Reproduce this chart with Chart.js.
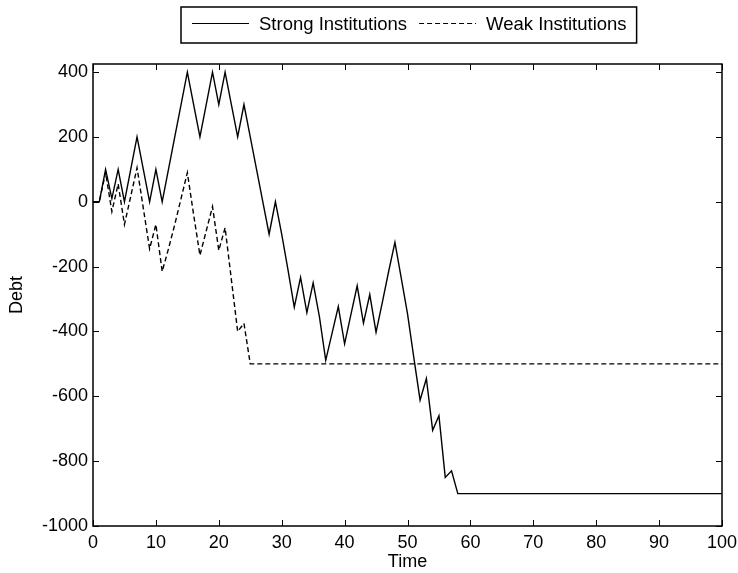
<!DOCTYPE html>
<html>
<head>
<meta charset="utf-8">
<script src="https://cdn.jsdelivr.net/npm/chart.js@4"></script>
<style>
  html, body { margin: 0; padding: 0; background: #fff; }
</style>
</head>
<body>
<canvas id="chart" width="738" height="573"></canvas>
<script>
// time steps 0..100
const time = [
  0, 1, 2, 3, 4, 5, 6, 7, 8, 9, 10, 11, 12, 13, 14, 15, 16, 17, 18, 19, 20,
  21, 22, 23, 24, 25, 26, 27, 28, 29, 30, 31, 32, 33, 34, 35, 36, 37, 38, 39, 40,
  41, 42, 43, 44, 45, 46, 47, 48, 49, 50, 51, 52, 53, 54, 55, 56, 57, 58, 59, 60,
  61, 62, 63, 64, 65, 66, 67, 68, 69, 70, 71, 72, 73, 74, 75, 76, 77, 78, 79, 80,
  81, 82, 83, 84, 85, 86, 87, 88, 89, 90, 91, 92, 93, 94, 95, 96, 97, 98, 99, 100
];

const strongDebt = [
  0, 0, 100, 10, 100, 0, 100, 200, 100, 0, 100, 0, 100, 200, 300, 400, 300, 200, 300, 400, 300,
  400, 300, 200, 300, 200, 100, 0, -100, 0, -100, -210, -325, -233, -342, -250, -355, -489, -406, -323, -438,
  -348, -259, -374, -286, -402, -310, -215, -125, -235, -345, -480, -612, -545, -705, -660, -850, -830, -900, -900, -900,
  -900, -900, -900, -900, -900, -900, -900, -900, -900, -900, -900, -900, -900, -900, -900, -900, -900, -900, -900, -900,
  -900, -900, -900, -900, -900, -900, -900, -900, -900, -900, -900, -900, -900, -900, -900, -900, -900, -900, -900, -900
];

const weakDebt = [
  0, 0, 90, -30, 55, -70, 17, 105, -20, -145, -70, -215, -145, -70, 10, 90, -40, -165, -90, -15, -150,
  -80, -240, -400, -375, -500, -500, -500, -500, -500, -500, -500, -500, -500, -500, -500, -500, -500, -500, -500, -500,
  -500, -500, -500, -500, -500, -500, -500, -500, -500, -500, -500, -500, -500, -500, -500, -500, -500, -500, -500, -500,
  -500, -500, -500, -500, -500, -500, -500, -500, -500, -500, -500, -500, -500, -500, -500, -500, -500, -500, -500, -500,
  -500, -500, -500, -500, -500, -500, -500, -500, -500, -500, -500, -500, -500, -500, -500, -500, -500, -500, -500, -500
];

const seriesNames = ['Strong Institutions', 'Weak Institutions'];
const xTicks = [0, 10, 20, 30, 40, 50, 60, 70, 80, 90, 100];
const yTicks = [-1000, -800, -600, -400, -200, 0, 200, 400];

const FONT = '"Liberation Sans", Arial, Helvetica, sans-serif';

const toPoints = vals => time.map((t, i) => ({ x: t, y: vals[i] }));

// box round the plot with matlab style inward ticks on all four sides
const frameTicks = {
  id: 'frameTicks',
  afterDatasetsDraw(chart) {
    const { ctx, chartArea: a, scales: { x, y } } = chart;
    ctx.save();
    ctx.strokeStyle = '#000';
    ctx.lineWidth = 1;
    ctx.beginPath();
    x.ticks.forEach(t => {
      const px = Math.round(x.getPixelForValue(t.value)) + 0.5;
      ctx.moveTo(px, a.bottom); ctx.lineTo(px, a.bottom - 6);
      ctx.moveTo(px, a.top); ctx.lineTo(px, a.top + 6);
    });
    y.ticks.forEach(t => {
      const py = Math.round(y.getPixelForValue(t.value)) + 0.5;
      ctx.moveTo(a.left, py); ctx.lineTo(a.left + 6, py);
      ctx.moveTo(a.right, py); ctx.lineTo(a.right - 6, py);
    });
    ctx.stroke();
    ctx.lineWidth = 1.5;
    ctx.strokeRect(a.left, a.top, a.right - a.left, a.bottom - a.top);
    ctx.restore();
  }
};

// legend in a bordered box above the plot
const boxLegend = {
  id: 'boxLegend',
  afterDraw(chart) {
    const ctx = chart.ctx;
    const sample = 57, gapText = 10, gapItem = 12, padL = 11, padR = 10;
    ctx.save();
    ctx.font = '18.5px ' + FONT;
    const items = chart.data.datasets.map(d => ({ d, w: ctx.measureText(d.label).width }));
    const total = padL + padR + items.reduce((s, it) => s + sample + gapText + it.w, 0) + gapItem * (items.length - 1);
    const top = 7, h = 36;
    let x = Math.round(408.5 - total / 2);
    ctx.strokeStyle = '#000';
    ctx.lineWidth = 1.5;
    ctx.strokeRect(x, top, total, h);
    x += padL;
    items.forEach(it => {
      ctx.lineWidth = 1;
      ctx.setLineDash(it.d.borderDash || []);
      ctx.beginPath();
      ctx.moveTo(x, 23.5);
      ctx.lineTo(x + sample, 23.5);
      ctx.stroke();
      ctx.setLineDash([]);
      x += sample + gapText;
      ctx.fillStyle = '#000';
      ctx.textBaseline = 'middle';
      ctx.textAlign = 'left';
      ctx.fillText(it.d.label, x, 25);
      x += it.w + gapItem;
    });
    ctx.restore();
  }
};

new Chart(document.getElementById('chart'), {
  type: 'line',
  data: {
    datasets: [
      {
        label: seriesNames[0],
        data: toPoints(strongDebt),
        borderColor: '#000',
        borderWidth: 1.4,
        pointRadius: 0,
        tension: 0,
        fill: false
      },
      {
        label: seriesNames[1],
        data: toPoints(weakDebt),
        borderColor: '#000',
        borderWidth: 1.4,
        borderDash: [5, 3],
        pointRadius: 0,
        tension: 0,
        fill: false
      }
    ]
  },
  options: {
    responsive: false,
    animation: false,
    devicePixelRatio: 1,
    layout: { padding: { top: 64, right: 16, left: 0, bottom: 0 } },
    plugins: {
      legend: { display: false },
      tooltip: { enabled: false }
    },
    scales: {
      x: {
        type: 'linear',
        min: 0,
        max: 100,
        grid: { display: false, drawTicks: false },
        border: { display: false },
        ticks: { color: '#000', font: { family: FONT, size: 18 }, padding: 6, maxRotation: 0, autoSkip: false, callback: v => String(v) },
        afterBuildTicks: s => { s.ticks = xTicks.map(v => ({ value: v })); },
        afterFit: s => { s.height = 47; s.paddingLeft = 0; s.paddingRight = 0; },
        title: { display: true, text: 'Time', color: '#000', font: { family: FONT, size: 18 }, padding: { top: 0, bottom: 0 } }
      },
      y: {
        type: 'linear',
        min: -1000,
        max: 425,
        grid: { display: false, drawTicks: false },
        border: { display: false },
        ticks: { color: '#000', font: { family: FONT, size: 18 }, padding: 5, autoSkip: false, callback: v => String(v) },
        afterBuildTicks: s => { s.ticks = yTicks.map(v => ({ value: v })); },
        afterFit: s => { s.width = 93; s.paddingTop = 0; s.paddingBottom = 0; },
        title: { display: true, text: 'Debt', color: '#000', font: { family: FONT, size: 18 }, padding: { top: 6, bottom: 0 } }
      }
    }
  },
  plugins: [frameTicks, boxLegend]
});
</script>
</body>
</html>
